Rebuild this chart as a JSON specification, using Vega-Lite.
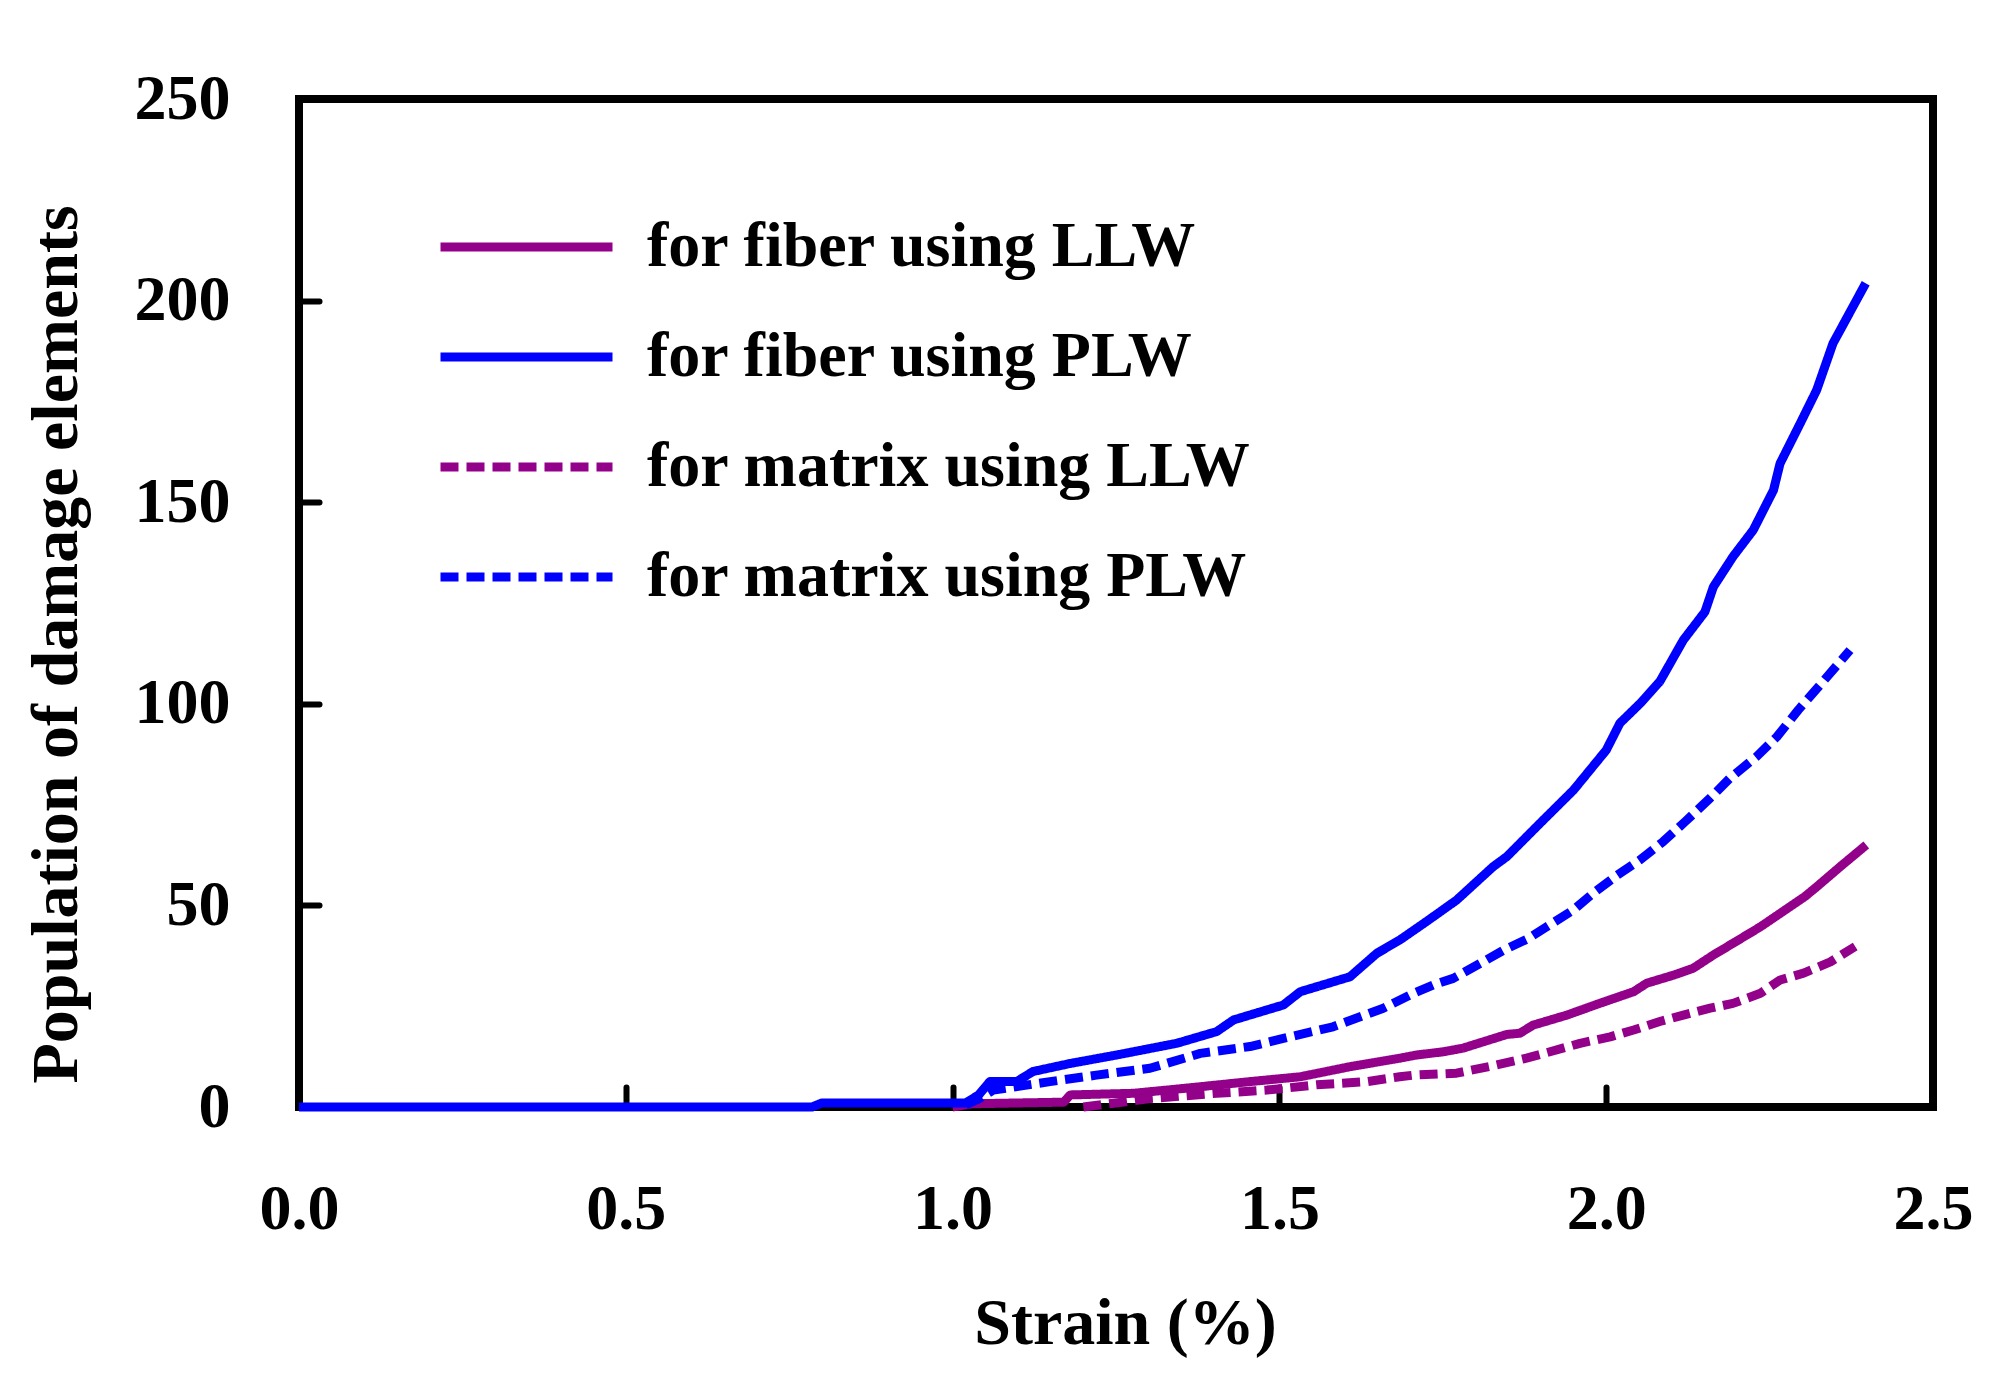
{
  "$schema": "https://vega.github.io/schema/vega-lite/v6.json",
  "description": "Population of damage elements vs strain",
  "width": 1634,
  "height": 1008,
  "autosize": {"type": "none"},
  "padding": {"left": 299, "top": 99, "right": 64, "bottom": 279},
  "background": "white",
  "config": {
    "view": {"stroke": "black", "strokeWidth": 8},
    "font": "Liberation Serif",
    "axis": {
      "domain": false,
      "grid": false,
      "ticks": true,
      "tickSize": -20,
      "tickWidth": 6,
      "tickCap": "round",
      "tickColor": "black",
      "labelFlush": false,
      "labelFont": "Liberation Serif",
      "labelFontWeight": "bold",
      "labelFontSize": 64,
      "labelColor": "black",
      "titleFont": "Liberation Serif",
      "titleFontWeight": "bold",
      "titleFontSize": 66,
      "titleColor": "black"
    },
    "legend": {
      "labelFont": "Liberation Serif",
      "labelFontWeight": "bold",
      "labelFontSize": 64,
      "labelColor": "black"
    }
  },
  "data": {
    "values": [
      {"strain": 1.0, "count": 0, "series": "for fiber using LLW"},
      {"strain": 1.03, "count": 0.8, "series": "for fiber using LLW"},
      {"strain": 1.17, "count": 1.2, "series": "for fiber using LLW"},
      {"strain": 1.18, "count": 3.0, "series": "for fiber using LLW"},
      {"strain": 1.277, "count": 3.4, "series": "for fiber using LLW"},
      {"strain": 1.353, "count": 4.6, "series": "for fiber using LLW"},
      {"strain": 1.455, "count": 6.3, "series": "for fiber using LLW"},
      {"strain": 1.532, "count": 7.5, "series": "for fiber using LLW"},
      {"strain": 1.608, "count": 10, "series": "for fiber using LLW"},
      {"strain": 1.684, "count": 12.1, "series": "for fiber using LLW"},
      {"strain": 1.71, "count": 12.9, "series": "for fiber using LLW"},
      {"strain": 1.751, "count": 13.7, "series": "for fiber using LLW"},
      {"strain": 1.781, "count": 14.6, "series": "for fiber using LLW"},
      {"strain": 1.848, "count": 18, "series": "for fiber using LLW"},
      {"strain": 1.868, "count": 18.3, "series": "for fiber using LLW"},
      {"strain": 1.888, "count": 20.3, "series": "for fiber using LLW"},
      {"strain": 1.94, "count": 22.8, "series": "for fiber using LLW"},
      {"strain": 1.99, "count": 25.7, "series": "for fiber using LLW"},
      {"strain": 2.042, "count": 28.6, "series": "for fiber using LLW"},
      {"strain": 2.062, "count": 30.7, "series": "for fiber using LLW"},
      {"strain": 2.103, "count": 32.7, "series": "for fiber using LLW"},
      {"strain": 2.133, "count": 34.4, "series": "for fiber using LLW"},
      {"strain": 2.164, "count": 37.7, "series": "for fiber using LLW"},
      {"strain": 2.194, "count": 40.6, "series": "for fiber using LLW"},
      {"strain": 2.236, "count": 44.7, "series": "for fiber using LLW"},
      {"strain": 2.266, "count": 48, "series": "for fiber using LLW"},
      {"strain": 2.304, "count": 52.2, "series": "for fiber using LLW"},
      {"strain": 2.322, "count": 54.6, "series": "for fiber using LLW"},
      {"strain": 2.358, "count": 59.6, "series": "for fiber using LLW"},
      {"strain": 2.398, "count": 65, "series": "for fiber using LLW"},

      {"strain": 1.2, "count": 0, "series": "for matrix using LLW"},
      {"strain": 1.25, "count": 1, "series": "for matrix using LLW"},
      {"strain": 1.302, "count": 2.1, "series": "for matrix using LLW"},
      {"strain": 1.404, "count": 3.4, "series": "for matrix using LLW"},
      {"strain": 1.481, "count": 4.2, "series": "for matrix using LLW"},
      {"strain": 1.557, "count": 5.5, "series": "for matrix using LLW"},
      {"strain": 1.634, "count": 6.3, "series": "for matrix using LLW"},
      {"strain": 1.684, "count": 7.5, "series": "for matrix using LLW"},
      {"strain": 1.705, "count": 7.9, "series": "for matrix using LLW"},
      {"strain": 1.771, "count": 8.4, "series": "for matrix using LLW"},
      {"strain": 1.832, "count": 10.4, "series": "for matrix using LLW"},
      {"strain": 1.878, "count": 12.1, "series": "for matrix using LLW"},
      {"strain": 1.914, "count": 13.7, "series": "for matrix using LLW"},
      {"strain": 1.96, "count": 15.8, "series": "for matrix using LLW"},
      {"strain": 2.006, "count": 17.4, "series": "for matrix using LLW"},
      {"strain": 2.042, "count": 19.1, "series": "for matrix using LLW"},
      {"strain": 2.082, "count": 21.2, "series": "for matrix using LLW"},
      {"strain": 2.118, "count": 22.8, "series": "for matrix using LLW"},
      {"strain": 2.159, "count": 24.5, "series": "for matrix using LLW"},
      {"strain": 2.194, "count": 25.7, "series": "for matrix using LLW"},
      {"strain": 2.236, "count": 28.2, "series": "for matrix using LLW"},
      {"strain": 2.266, "count": 31.5, "series": "for matrix using LLW"},
      {"strain": 2.302, "count": 33.2, "series": "for matrix using LLW"},
      {"strain": 2.343, "count": 36, "series": "for matrix using LLW"},
      {"strain": 2.381, "count": 39.8, "series": "for matrix using LLW"},

      {"strain": 1.02, "count": 0.5, "series": "for matrix using PLW"},
      {"strain": 1.04, "count": 2, "series": "for matrix using PLW"},
      {"strain": 1.062, "count": 4.2, "series": "for matrix using PLW"},
      {"strain": 1.149, "count": 6.3, "series": "for matrix using PLW"},
      {"strain": 1.22, "count": 7.9, "series": "for matrix using PLW"},
      {"strain": 1.302, "count": 9.6, "series": "for matrix using PLW"},
      {"strain": 1.379, "count": 13.3, "series": "for matrix using PLW"},
      {"strain": 1.455, "count": 15, "series": "for matrix using PLW"},
      {"strain": 1.506, "count": 17, "series": "for matrix using PLW"},
      {"strain": 1.582, "count": 19.9, "series": "for matrix using PLW"},
      {"strain": 1.659, "count": 24.5, "series": "for matrix using PLW"},
      {"strain": 1.7, "count": 27.8, "series": "for matrix using PLW"},
      {"strain": 1.736, "count": 30.3, "series": "for matrix using PLW"},
      {"strain": 1.766, "count": 31.9, "series": "for matrix using PLW"},
      {"strain": 1.807, "count": 35.6, "series": "for matrix using PLW"},
      {"strain": 1.843, "count": 38.9, "series": "for matrix using PLW"},
      {"strain": 1.881, "count": 41.8, "series": "for matrix using PLW"},
      {"strain": 1.909, "count": 44.7, "series": "for matrix using PLW"},
      {"strain": 1.95, "count": 48.9, "series": "for matrix using PLW"},
      {"strain": 1.98, "count": 53, "series": "for matrix using PLW"},
      {"strain": 2.017, "count": 57.5, "series": "for matrix using PLW"},
      {"strain": 2.052, "count": 61.3, "series": "for matrix using PLW"},
      {"strain": 2.087, "count": 65.8, "series": "for matrix using PLW"},
      {"strain": 2.121, "count": 70.8, "series": "for matrix using PLW"},
      {"strain": 2.159, "count": 76.6, "series": "for matrix using PLW"},
      {"strain": 2.189, "count": 81.5, "series": "for matrix using PLW"},
      {"strain": 2.23, "count": 86.9, "series": "for matrix using PLW"},
      {"strain": 2.261, "count": 91.8, "series": "for matrix using PLW"},
      {"strain": 2.294, "count": 98.5, "series": "for matrix using PLW"},
      {"strain": 2.329, "count": 105, "series": "for matrix using PLW"},
      {"strain": 2.373, "count": 113.3, "series": "for matrix using PLW"},

      {"strain": 0, "count": 0, "series": "for fiber using PLW"},
      {"strain": 0.785, "count": 0, "series": "for fiber using PLW"},
      {"strain": 0.8, "count": 1, "series": "for fiber using PLW"},
      {"strain": 1.02, "count": 1, "series": "for fiber using PLW"},
      {"strain": 1.04, "count": 3, "series": "for fiber using PLW"},
      {"strain": 1.057, "count": 6.3, "series": "for fiber using PLW"},
      {"strain": 1.098, "count": 6.3, "series": "for fiber using PLW"},
      {"strain": 1.123, "count": 8.8, "series": "for fiber using PLW"},
      {"strain": 1.18, "count": 10.8, "series": "for fiber using PLW"},
      {"strain": 1.251, "count": 12.9, "series": "for fiber using PLW"},
      {"strain": 1.343, "count": 15.8, "series": "for fiber using PLW"},
      {"strain": 1.404, "count": 18.7, "series": "for fiber using PLW"},
      {"strain": 1.43, "count": 21.6, "series": "for fiber using PLW"},
      {"strain": 1.506, "count": 25.3, "series": "for fiber using PLW"},
      {"strain": 1.532, "count": 28.6, "series": "for fiber using PLW"},
      {"strain": 1.608, "count": 32.3, "series": "for fiber using PLW"},
      {"strain": 1.649, "count": 38.1, "series": "for fiber using PLW"},
      {"strain": 1.684, "count": 41.4, "series": "for fiber using PLW"},
      {"strain": 1.725, "count": 46, "series": "for fiber using PLW"},
      {"strain": 1.771, "count": 51.3, "series": "for fiber using PLW"},
      {"strain": 1.827, "count": 59.6, "series": "for fiber using PLW"},
      {"strain": 1.848, "count": 62.1, "series": "for fiber using PLW"},
      {"strain": 1.899, "count": 70.4, "series": "for fiber using PLW"},
      {"strain": 1.95, "count": 78.6, "series": "for fiber using PLW"},
      {"strain": 2.0, "count": 88.5, "series": "for fiber using PLW"},
      {"strain": 2.021, "count": 95.2, "series": "for fiber using PLW"},
      {"strain": 2.052, "count": 100.1, "series": "for fiber using PLW"},
      {"strain": 2.082, "count": 105.5, "series": "for fiber using PLW"},
      {"strain": 2.118, "count": 115.8, "series": "for fiber using PLW"},
      {"strain": 2.151, "count": 122.8, "series": "for fiber using PLW"},
      {"strain": 2.164, "count": 129, "series": "for fiber using PLW"},
      {"strain": 2.194, "count": 136.5, "series": "for fiber using PLW"},
      {"strain": 2.225, "count": 143.1, "series": "for fiber using PLW"},
      {"strain": 2.256, "count": 153, "series": "for fiber using PLW"},
      {"strain": 2.266, "count": 159.6, "series": "for fiber using PLW"},
      {"strain": 2.297, "count": 169.6, "series": "for fiber using PLW"},
      {"strain": 2.322, "count": 177.8, "series": "for fiber using PLW"},
      {"strain": 2.347, "count": 189.4, "series": "for fiber using PLW"},
      {"strain": 2.397, "count": 204.3, "series": "for fiber using PLW"}
    ]
  },
  "mark": {"type": "line", "strokeWidth": 9, "strokeJoin": "round"},
  "encoding": {
    "x": {
      "field": "strain",
      "type": "quantitative",
      "scale": {"domain": [0, 2.5], "nice": false, "zero": false},
      "axis": {
        "title": "Strain (%)",
        "values": [0, 0.5, 1, 1.5, 2, 2.5],
        "format": ".1f",
        "labelBaseline": "middle",
        "labelPadding": 122,
        "titleX": 826,
        "titleY": 216,
        "titleBaseline": "middle",
        "titleAlign": "center"
      }
    },
    "y": {
      "field": "count",
      "type": "quantitative",
      "scale": {"domain": [0, 250], "nice": false},
      "axis": {
        "title": "Population of damage elements",
        "values": [0, 50, 100, 150, 200, 250],
        "format": "d",
        "labelPadding": 89,
        "titleX": -243,
        "titleY": 545,
        "titleAngle": -90,
        "titleBaseline": "middle",
        "titleAlign": "center"
      }
    },
    "color": {
      "field": "series",
      "type": "nominal",
      "scale": {
        "domain": ["for fiber using LLW", "for fiber using PLW", "for matrix using LLW", "for matrix using PLW"],
        "range": ["#93008A", "#0000FF", "#93008A", "#0000FF"]
      },
      "legend": {
        "title": null,
        "orient": "none",
        "legendX": 137,
        "legendY": 115,
        "padding": 0,
        "symbolType": "stroke",
        "symbolSize": 29584,
        "symbolStrokeWidth": 9,
        "clipHeight": 66,
        "rowPadding": 44,
        "labelOffset": 30,
        "labelLimit": 900,
        "encode": {
          "symbols": {
            "update": {
              "strokeDash": {
                "condition": {"test": "indexof(datum.value, 'matrix') >= 0", "value": [17, 35]},
                "value": [1, 0]
              }
            }
          }
        }
      }
    },
    "strokeDash": {
      "field": "series",
      "type": "nominal",
      "scale": {
        "domain": ["for fiber using LLW", "for fiber using PLW", "for matrix using LLW", "for matrix using PLW"],
        "range": [[1, 0], [1, 0], [18, 8], [18, 8]]
      },
      "legend": null
    }
  }
}
